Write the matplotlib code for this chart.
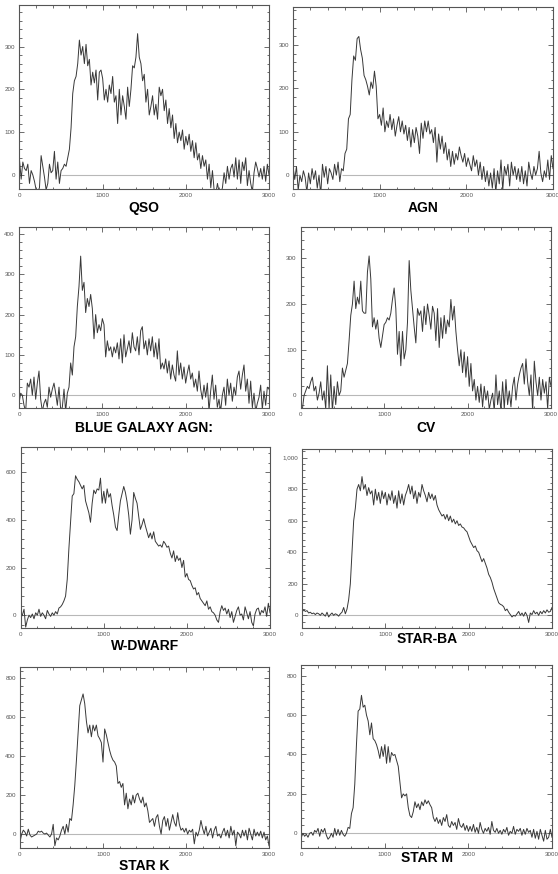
import numpy as np
import matplotlib
matplotlib.use('Agg')
import matplotlib.pyplot as plt
from matplotlib.ticker import MultipleLocator, AutoMinorLocator, FuncFormatter

# common wavelength grid (20-unit bins)
wave = np.arange(0, 3001, 20)

qso = [35, -10, 30, 15, 10, 25, -20, 10, 0, -15,
       -35, -40, -30, 45, 20, -5, -35, -20, 25, 5,
       10, 55, -10, 30, -20, 10, 15, 25, 20, 40,
       60, 110, 190, 220, 230, 260, 315, 280, 300, 260,
       305, 255, 270, 210, 240, 215, 245, 175, 240, 245,
       225, 175, 200, 170, 210, 190, 230, 170, 185, 120,
       200, 140, 185, 160, 130, 205, 160, 200, 255, 250,
       275, 330, 275, 260, 220, 235, 170, 200, 140, 160,
       185, 140, 165, 130, 205, 185, 200, 150, 175, 120,
       155, 110, 140, 85, 120, 75, 100, 80, 105, 60,
       90, 70, 95, 55, 80, 40, 75, 35, 50, 15,
       45, 20, 35, -10, 25, -30, 10, -35, -45, -20,
       -40, -45, -30, 5, -20, 20, -10, 15, 25, -5,
       40, -10, 35, -20, 30, 10, 40, -25, 10, -20,
       -40, 5, 30, 15, -5, 15, -10, 20, -15, 25,
       0]

agn = [20, -10, 20, -35, 0, -15, 10, -5, -40, 5,
       -20, 15, -10, 10, -30, 0, -45, 25, -5, 20,
       -20, 15, 5, -10, 25, 0, 30, -15, 15, 10,
       50, 60, 130, 140, 220, 275, 265, 315, 320, 290,
       270, 230, 220, 205, 185, 215, 200, 240, 205, 130,
       140, 115, 155, 100, 125, 110, 140, 105, 130, 90,
       115, 135, 100, 125, 95, 115, 80, 110, 65, 105,
       75, 110, 90, 50, 120, 85, 125, 100, 125, 95,
       105, 75, 110, 30, 95, 60, 90, 50, 75, 35,
       60, 20, 55, 25, 50, 35, 65, 45, 30, 50,
       20, 40, 25, 10, 45, 20, 35, 0, 30, -10,
       20, -15, 10, -25, 5, -30, 15, -40, 10, -20,
       35, -35, 20, 0, 25, -25, 30, 0, 20, -10,
       15, -15, 20, -20, 10, -25, 30, 5, -10, 20,
       0, 15, 55, 5, -15, 10, -5, 35, -10, 45,
       15]

blue_agn = [-20, 5, 0, -25, -40, 30, 20, 40, 0, 45,
            -10, 30, 60, -10, -40, -20, -10, -30, 20, -5,
            15, 30, 5, -25, 20, -35, -30, 15, -40, 5,
            20, 80, 50, 120, 145, 220, 270, 345, 260, 280,
            205, 240, 220, 250, 215, 140, 200, 155, 175, 160,
            190, 175, 95, 135, 110, 120, 95, 120, 105, 130,
            90, 140, 80, 150, 95, 115, 135, 105, 155, 120,
            110, 145, 100, 160, 170, 115, 135, 100, 140, 110,
            145, 95, 130, 90, 140, 65, 80, 65, 90, 55,
            85, 40, 75, 50, 35, 110, 50, 80, 40, 70,
            30, 55, 75, 40, 55, 20, 40, 10, 60, 15,
            -10, 25, -5, 30, -40, 10, 50, -10, 25, -30,
            -10, -40, 0, 20, -25, 40, 0, 30, -15, 20,
            0, 45, 60, 15, 50, 75, 10, 40, -20, 35,
            -30, 5, -40, -20, -5, 25, -35, 10, -25, 20,
            15]

cv = [-35, -30, 0, 10, 20, 15, 30, 40, 10, 20,
      -10, 5, 30, -10, 10, -30, 65, -30, 45, -35,
      20, -20, 30, 0, 10, 60, 40, 55, 70, 120,
      175, 200, 250, 190, 215, 200, 250, 185, 180, 180,
      270, 305, 255, 150, 170, 145, 165, 125, 105, 130,
      155, 160, 170, 165, 180, 210, 235, 190, 90, 140,
      65, 140, 80, 100, 160, 295, 230, 190, 150, 115,
      190, 175, 185, 140, 195, 155, 200, 175, 145, 195,
      180, 120, 190, 105, 170, 125, 175, 135, 165, 150,
      210, 165, 195, 140, 100, 65, 100, 50, 95, 40,
      85, 20, 70, 10, 35, -10, 20, -15, 25, -25,
      20, -10, 10, -30, -10, 5, -35, 45, -20, 10,
      -35, 30, -30, 35, -20, 10, -25, 20, 40, -10,
      25, 45, 60, 70, 25, 80, 30, 0, 45, -35,
      75, 30, 0, 40, -10, 35, 5, 30, -30, 40,
      20]

w_dwarf = [-10, 0, 25, -50, -20, 0, -10, 5, -15, 10,
           0, 25, -5, 10, 0, -15, 20, 5, -5, 10,
           0, 15, 5, 30, 35, 45, 60, 80, 150, 280,
           390, 500, 510, 585, 570, 560, 545, 530, 545, 480,
           455, 430, 390, 470, 525, 510, 530, 525, 575, 470,
           520, 470, 530, 495, 510, 460, 420, 370, 355, 420,
           480, 510, 540, 515, 475, 420, 340, 400, 515, 490,
           470, 415, 360, 380, 405, 375, 350, 325, 345, 320,
           350, 310, 300, 290, 295, 285, 310, 300, 285, 290,
           260, 240, 270, 225, 250, 230, 240, 200, 230, 160,
           175, 150, 145, 125, 110, 115, 85, 95, 70, 60,
           50, 40, 60, 25, 35, 15, 10, 0, -20, -30,
           15, 40, 20, 30, 5, 25, -10, 15, -30, -5,
           20, 35, 0, 5, -20, 35, 10, -15, 15, -30,
           -45, 5, 25, 30, 0, 20, 10, 35, -5, 50,
           10]

star_ba = [20, 35, 25, 30, 15, 20, 10, 15, 5, 15,
           10, 0, 15, 5, -5, 20, -10, 5, 15, 0,
           10, 5, -5, 10, 20, 50, 10, 40, 100, 200,
           400, 600, 680, 800, 830, 790, 880, 800, 830, 760,
           810, 770, 790, 700, 800, 730, 780, 710, 790, 740,
           780, 700, 770, 730, 790, 710, 760, 680, 790, 710,
           770, 700, 760, 790, 830, 770, 820, 740, 790, 710,
           780, 750, 830, 790, 760, 720, 780, 740, 770, 730,
           760, 700, 670, 650, 630, 640, 610, 640, 600, 630,
           590, 610, 580, 600, 570, 580, 560, 555, 540, 530,
           500, 470, 450, 430, 440, 410, 400, 370, 340, 360,
           330, 300, 260, 240, 210, 170, 140, 110, 80, 70,
           65, 55, 30, 40, 20, 5, -10, 0, -5, 10,
           25, 0, 15, -5, 20, 0, -45, 15, 5, 30,
           10, 20, 0, 25, 10, 30, 15, 35, 20, 25,
           50]

star_k = [-40, 0, 20, 10, -10, 25, -5, -15, -10, -5,
          0, 15, 10, 15, 5, 0, 5, -5, -15, 0,
          50, -60, -20, -30, -10, 20, 40, 0, 50, 10,
          80, 70, 150, 250, 380, 520, 660, 690, 720, 670,
          580, 520, 560, 500, 560, 530, 560, 505, 490, 470,
          370, 540, 510, 470, 430, 400, 380, 370, 350, 260,
          270, 240, 260, 150, 210, 130, 180, 150, 200, 160,
          200, 210, 180, 160, 190, 140, 160, 120, 60, 70,
          80, 40, 85, 100, 40, 0, 70, 90, 40, 80,
          20, 60, 100, 60, 40, 110, 50, 20, 30, 10,
          30, 0, 20, 10, 25, -50, 10, -10, 20, 70,
          30, 0, 40, -10, 10, 30, -20, 20, 40, -10,
          0, -20, 10, 30, -10, 20, -20, 40, -5, 20,
          -60, 10, 0, -20, 20, -10, 20, -30, 30, 0,
          -30, 25, -10, 10, -10, 15, -20, 10, -30, -10,
          -60]

star_m = [-20, 0, -15, -5, -20, 0, 5, -10, 15, 5,
          25, -15, 20, 5, 25, -10, -30, -20, 0, -20,
          25, -10, 20, -10, 15, -5, -15, 0, 30, 25,
          100, 130, 250, 450, 620, 630, 700, 640, 650, 600,
          570, 500, 560, 480, 470, 450, 420, 380, 440, 390,
          450, 355, 440, 360, 410, 395, 400, 370, 340, 260,
          180, 200, 190, 200, 130, 90, 80, 110, 160, 130,
          150, 120, 160, 140, 170, 150, 165, 145, 130, 80,
          60, 80, 50, 70, 40, 80, 60, 95, 40, 30,
          60, 40, 55, 20, 75, 40, 30, 50, 15, 40,
          10, 35, 10, 45, 5, 30, 0, 55, 20, 0,
          25, 10, 30, -5, 60, 15, 5, 25, 0, 15,
          -5, 20, 5, 30, -10, 10, 0, 35, -5, 20,
          10, 25, -10, 20, -5, 25, 5, 15, -20, 20,
          -25, 10, -30, 20, -10, -40, 15, -30, -20, 20,
          -20]

W, H = 558, 874
plt.rcParams['font.family'] = ['Liberation Sans', 'DejaVu Sans']
fig = plt.figure(figsize=(W / 100, H / 100), dpi=100)

# name, flux, box in px (left, right, top, bottom), y limits, y step, title y, zero line start
panels = [
    ('QSO', qso, (19.5, 269, 5, 189), (-33, 397), 100, 208, 500),
    ('AGN', agn, (293, 553, 7, 189), (-32, 388), 100, 208, 570),
    ('BLUE GALAXY AGN:', blue_agn, (19, 269, 226.7, 407.7), (-31, 418), 100, 428, 0),
    ('CV', cv, (300.7, 551, 226.7, 408.3), (-28, 369), 100, 428, 0),
    ('W-DWARF', w_dwarf, (20.7, 270, 446.7, 628.3), (-55, 707), 200, 646, 0),
    ('STAR-BA', star_ba, (302, 552, 449, 628.3), (-82, 1055), 200, 639, 0),
    ('STAR K', star_k, (20, 269, 666.7, 847.7), (-70, 860), 200, 866, 0),
    ('STAR M', star_m, (301.3, 552, 665, 847.7), (-73, 854), 200, 858, 0),
]

for name, flux, (l, r, t, b), ylim, ystep, ty, x0 in panels:
    ax = fig.add_axes([l / W, 1 - b / H, (r - l) / W, (b - t) / H])
    ax.hlines(0, x0, 3000, color='#b8b8b8', lw=0.8, zorder=1)
    ax.plot(wave, flux, color='#383838', lw=0.7, zorder=2)
    ax.set_xlim(0, 3000)
    ax.set_ylim(*ylim)
    ax.xaxis.set_major_locator(MultipleLocator(1000))
    ax.xaxis.set_minor_locator(MultipleLocator(200))
    ax.yaxis.set_major_locator(MultipleLocator(ystep))
    ax.yaxis.set_minor_locator(AutoMinorLocator(5))
    ax.yaxis.set_major_formatter(FuncFormatter(lambda v, p: f'{v:,.0f}'))
    ax.tick_params(which='both', direction='in', top=True, right=True,
                   color='#555555', width=0.6, labelsize=4.5,
                   labelcolor='#555555', pad=3)
    ax.tick_params(which='major', length=3.5)
    ax.tick_params(which='minor', length=1.8)
    for s in ax.spines.values():
        s.set_linewidth(0.8)
        s.set_color('#555555')
    fig.text((l + r) / 2 / W, 1 - ty / H, name, ha='center', va='center',
             fontsize=10, fontweight='bold')

fig.savefig('out.png', dpi=100)
